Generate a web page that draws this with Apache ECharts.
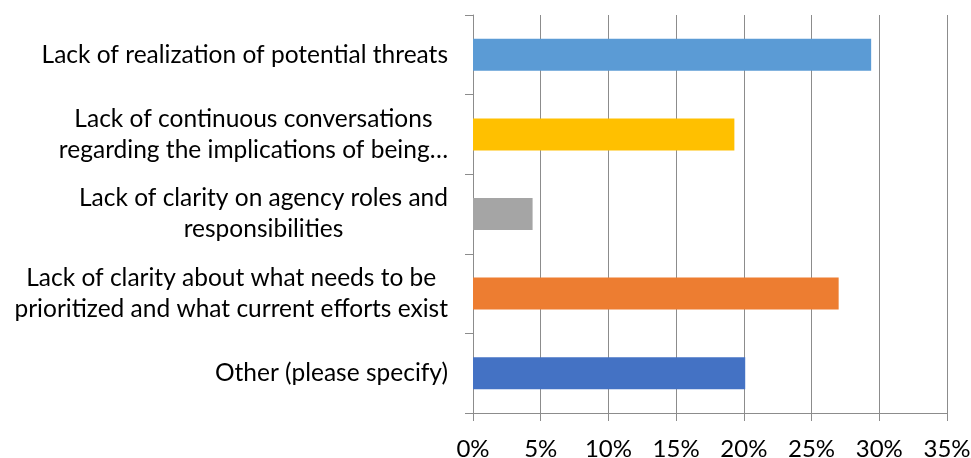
<!DOCTYPE html>
<html>
<head>
<meta charset="utf-8">
<script src="https://cdn.jsdelivr.net/npm/echarts@6/dist/echarts.min.js"></script>
<style>html,body{margin:0;padding:0;background:#fff;}#c{width:971px;height:458px;}</style>
</head>
<body>
<div id="c"></div>
<script>
var categories = [
  "Lack of realization of potential threats",
  "Lack of continuous conversations\nregarding the implications of being…",
  "Lack of clarity on agency roles and\nresponsibilities",
  "Lack of clarity about what needs to be\nprioritized and what current efforts exist",
  "Other (please specify)"
];
var values = [29.4, 19.3, 4.4, 27.0, 20.1];
var barColors = ["#5B9BD5", "#FFC000", "#A5A5A5", "#ED7D31", "#4472C4"];
var xTicks = [0, 5, 10, 15, 20, 25, 30, 35];

var FONT = "Lato";
var chart = echarts.init(document.getElementById('c'), null, {renderer: 'canvas'});
chart.setOption({
  animation: false,
  grid: {left: 473, right: 24, top: 15, bottom: 45, containLabel: false, outerBoundsMode: 'none'},
  xAxis: {
    type: 'value', min: xTicks[0], max: xTicks[xTicks.length - 1], interval: 5,
    axisLine: {show: true, lineStyle: {color: '#8c8c8c', width: 1}},
    axisTick: {show: true, length: 8, lineStyle: {color: '#8c8c8c'}},
    splitLine: {show: true, lineStyle: {color: '#8c8c8c', width: 1}},
    axisLabel: {formatter: function(v){ return v + '%'; }, color: '#000', fontFamily: FONT, fontSize: 24, lineHeight: 20, margin: 26}
  },
  yAxis: {
    type: 'category', inverse: true, data: categories,
    axisLine: {show: true, lineStyle: {color: '#8c8c8c', width: 1}},
    axisTick: {show: true, length: 8, lineStyle: {color: '#8c8c8c'}},
    axisLabel: {
      color: '#000', fontFamily: FONT, fontSize: 24.5, margin: 25, lineHeight: 31,
      formatter: function(v){ return v.split('\n').map(function(s){ return '{c|' + s + '}'; }).join('\n'); },
      rich: {c: {align: 'center', color: '#000', fontFamily: FONT, fontSize: 24.5, lineHeight: 31}}
    }
  },
  series: [{
    type: 'bar', barWidth: 32,
    data: values.map(function(v, i){ return {value: v, itemStyle: {color: barColors[i]}}; })
  }]
});
</script>
</body>
</html>
